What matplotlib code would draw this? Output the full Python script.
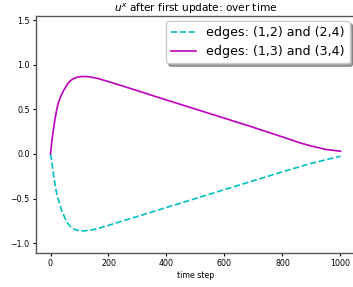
import numpy as np
import matplotlib
matplotlib.use("Agg")
import matplotlib.pyplot as plt

# values
steps_13_34 = [0, 5, 10, 15, 20, 25, 35, 45, 60, 70, 80, 95, 110, 130, 160,
               200, 240, 400, 500, 600, 700, 800, 860, 900, 950, 1000]
u_13_34 = [0.0, 0.15, 0.27, 0.38, 0.47, 0.55, 0.64, 0.71, 0.79, 0.823, 0.845,
           0.862, 0.868, 0.865, 0.848, 0.81, 0.77, 0.604, 0.502, 0.40, 0.297,
           0.19, 0.124, 0.088, 0.05, 0.03]
steps_12_24 = [0, 5, 10, 15, 20, 25, 38, 50, 60, 72, 85, 100, 115, 140, 170,
               200, 240, 400, 500, 600, 700, 800, 900, 950, 1000]
u_12_24 = [0.0, -0.10, -0.22, -0.33, -0.42, -0.49, -0.63, -0.72, -0.78,
           -0.825, -0.848, -0.86, -0.862, -0.853, -0.83, -0.80, -0.76, -0.60,
           -0.50, -0.40, -0.30, -0.20, -0.105, -0.065, -0.027]
labels = ["edges: (1,2) and (2,4)", "edges: (1,3) and (3,4)"]

fig = plt.figure(figsize=(3.53, 2.87), dpi=100)
ax = fig.add_axes([36 / 353, 1 - 253 / 287, 319 / 353, 237 / 287])

ax.plot(steps_12_24, u_12_24, "c--", lw=1.2, label=labels[0])
ax.plot(steps_13_34, u_13_34, "m-", lw=1.2, label=labels[1])

ax.set_xlim(-50, 1050)
ax.set_ylim(-1.11, 1.545)
ax.set_xticks([0, 200, 400, 600, 800, 1000])
ax.set_yticks([-1.0, -0.5, 0.0, 0.5, 1.0, 1.5])
ax.tick_params(labelsize=5.7, length=2.5, width=0.8, pad=2)
for s in ax.spines.values():
    s.set_color("#555555")
    s.set_linewidth(1.0)

ax.set_xlabel("time step", fontsize=5.7, labelpad=2)
ax.set_title("$u^x$ after first update: over time", fontsize=7.6, pad=3)
ax.legend(loc="upper right", fontsize=9.1, shadow=True, handlelength=2.0,
          borderaxespad=0.4)

fig.savefig("out.png", dpi=100)
